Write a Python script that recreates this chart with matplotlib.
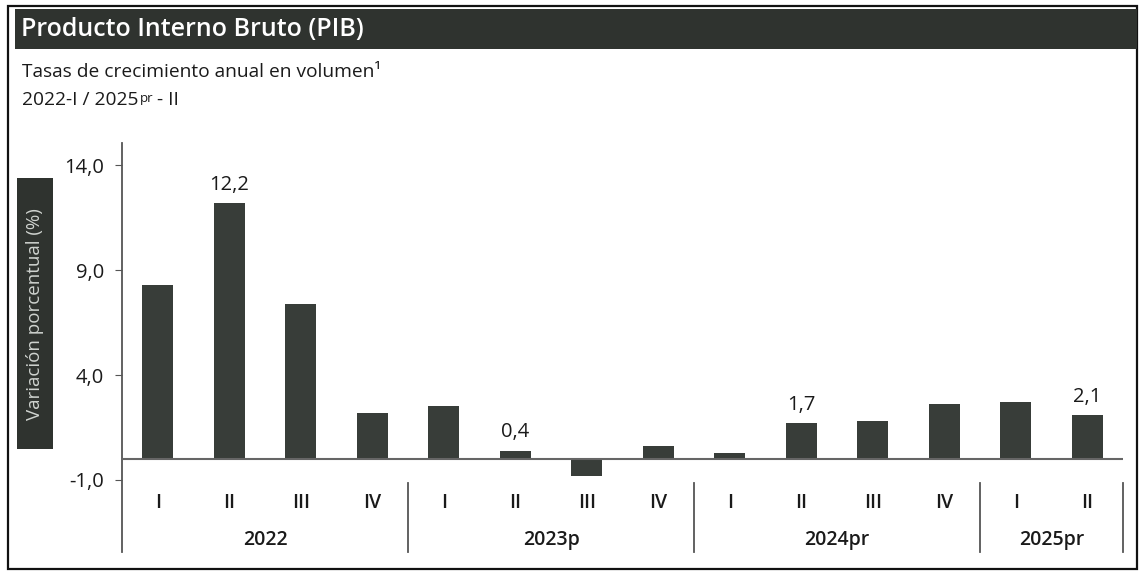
import matplotlib
matplotlib.use("Agg")
import matplotlib.pyplot as plt
from matplotlib.patches import Rectangle

plt.rcParams["font.family"] = ["Open Sans", "DejaVu Sans"]

# datos: tasas de crecimiento anual del PIB (%)
quarters = ["I", "II", "III", "IV", "I", "II", "III", "IV",
            "I", "II", "III", "IV", "I", "II"]
years = ["2022", "2023p", "2024pr", "2025pr"]
year_sizes = [4, 4, 4, 2]
values = [8.3, 12.2, 7.4, 2.2, 2.5, 0.4, -0.8, 0.6,
          0.3, 1.7, 1.8, 2.6, 2.7, 2.1]
labeled = [1, 5, 9, 13]
yticks = [-1.0, 4.0, 9.0, 14.0]

BAR = "#383d39"
DARK = "#2f332f"
AXIS = "#555555"
INK = "#1a1a1a"

fig = plt.figure(figsize=(11.44, 5.72), dpi=100)
W, H = 1144, 572
ax = fig.add_axes([122 / W, 1 - 552 / H, 1001 / W, 409 / H])

# marco y cabecera
fig.patches.append(Rectangle((8 / W, 1 - 569 / H), 1129 / W, 563 / H,
                             transform=fig.transFigure, fill=False,
                             edgecolor="#111111", linewidth=1.6))
fig.patches.append(Rectangle((15 / W, 1 - 49 / H), 1122 / W, 40 / H,
                             transform=fig.transFigure, facecolor=DARK,
                             edgecolor="none"))
fig.text(21 / W, 1 - 30 / H, "Producto Interno Bruto (PIB)", color="white",
         fontsize=18, fontweight="semibold", va="center", ha="left")
fig.text(22 / W, 1 - 72 / H, "Tasas de crecimiento anual en volumen\u00b9",
         color=INK, fontsize=13.8, va="center", ha="left")
t = fig.text(22 / W, 1 - 100 / H, "2022-I / 2025", color=INK,
             fontsize=13.8, va="center", ha="left")
sup = ax.annotate("pr", xy=(1, 0.92), xycoords=t, xytext=(1, 0),
                  textcoords="offset points", fontsize=9.5, color=INK,
                  va="top", ha="left", annotation_clip=False)
ax.annotate(" - II", xy=(1, 0.5), xycoords=t, xytext=(10, 0),
            textcoords="offset points", fontsize=13.8, color=INK,
            va="center", ha="left", annotation_clip=False)

# etiqueta del eje y en caja oscura
fig.patches.append(Rectangle((17 / W, 1 - 449 / H), 36 / W, 271 / H,
                             transform=fig.transFigure, facecolor=DARK,
                             edgecolor="none"))
fig.text(35 / W, 1 - 314 / H, "Variación porcentual (%)", rotation=90,
         color="#cfd3cf", fontsize=13.5, va="center", ha="center")

x = list(range(len(values)))
ax.bar(x, values, width=0.43, color=BAR, edgecolor="none", zorder=2)
ax.axhline(0, color="#666666", linewidth=1.5, zorder=3)

for i in labeled:
    v = values[i]
    ax.annotate(f"{v:.1f}".replace(".", ","), (i, v), xytext=(0, 6),
                textcoords="offset points", ha="center", va="bottom",
                fontsize=14.5, fontweight="medium", color=INK)

ax.set_xlim(-0.5, len(values) - 0.5)
ax.set_ylim(-4.43, 15.05)
ax.set_yticks(yticks)
ax.set_yticklabels([f"{v:.1f}".replace(".", ",") for v in yticks],
                   fontsize=14.5, color=INK)
ax.tick_params(axis="y", length=5, color=AXIS, pad=8)
ax.set_xticks([])
for s in ["top", "right", "bottom"]:
    ax.spines[s].set_visible(False)
ax.spines["left"].set_color(AXIS)
ax.spines["left"].set_linewidth(1.3)

# eje de categorías de dos niveles
for i, q in enumerate(quarters):
    ax.text(i, -2.1, q, ha="center", va="center", fontsize=14,
            fontweight="semibold", color=INK)
start = 0
for yr, n in zip(years, year_sizes):
    ax.text(start + (n - 1) / 2, -3.86, yr, ha="center", va="center",
            fontsize=14, fontweight="semibold", color=INK)
    start += n
    ax.plot([start - 0.5, start - 0.5], [-1.14, -4.43], color=AXIS,
            linewidth=1.3, clip_on=False)

fig.savefig("out.png", dpi=100)
